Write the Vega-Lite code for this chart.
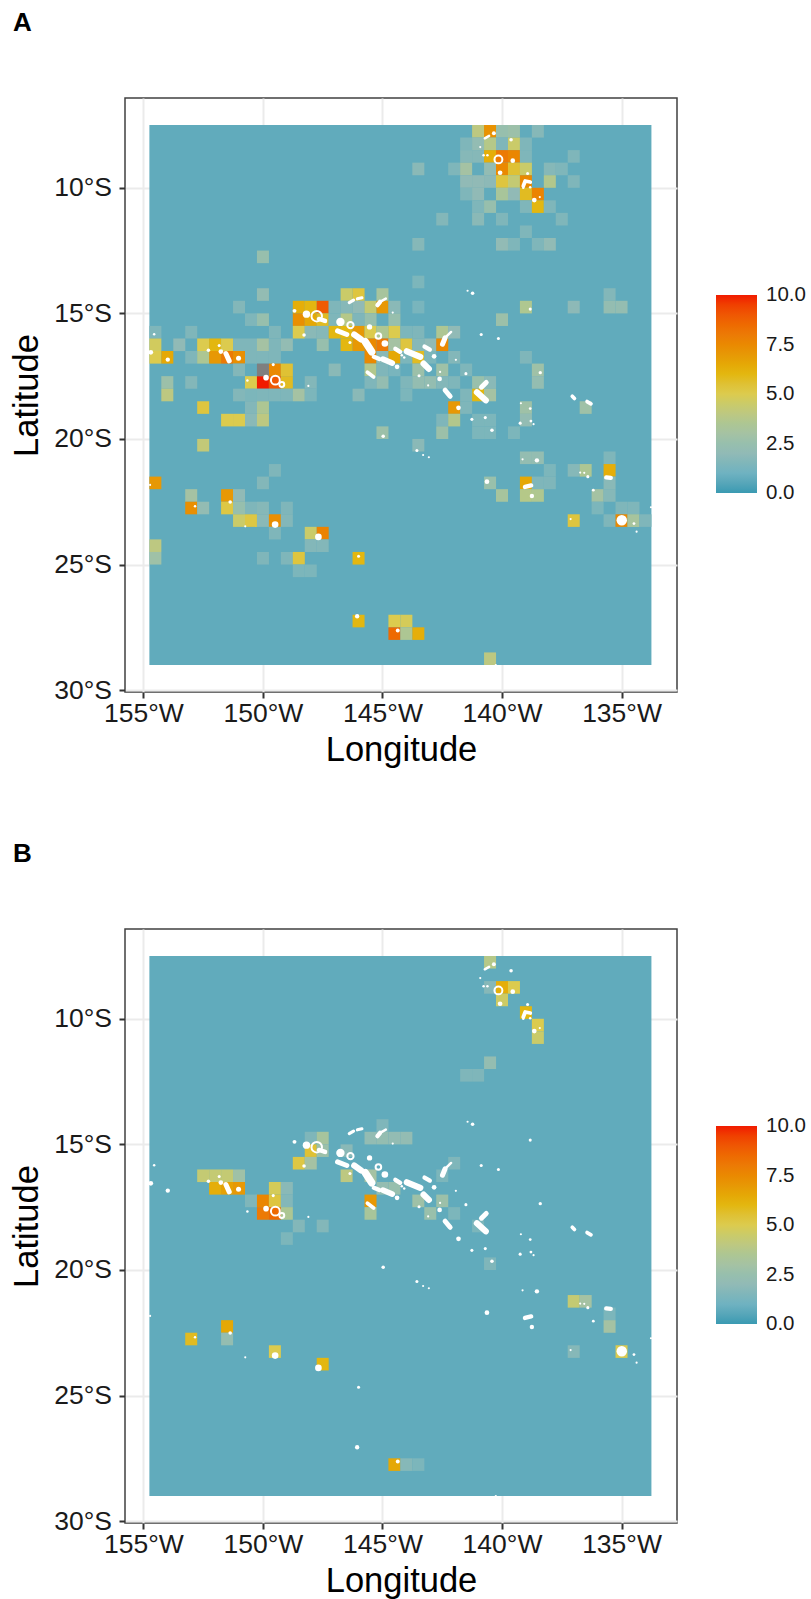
{"$schema":"https://vega.github.io/schema/vega-lite/v6.json","padding":{"left":9,"top":8,"right":0,"bottom":0},"background":"white","bounds":"flush","spacing":237,"resolve":{"scale":{"color":"independent"},"legend":{"color":"independent"}},
"config":{"font":"Liberation Sans","view":{"stroke":"#404040","strokeWidth":1.5},"axis":{"grid":true,"gridColor":"#ebebeb","gridWidth":2,"domain":false,"tickColor":"#333333","tickSize":6,"tickWidth":2,"labelFontSize":26.5,"labelColor":"#1a1a1a","titleFontSize":34.5,"titleFontWeight":"normal","titleColor":"#000000"},"axisX":{"titlePadding":7,"labelPadding":2},"axisY":{"titlePadding":9,"labelPadding":7.5},"title":{"fontSize":26,"fontWeight":"bold","anchor":"start","frame":"group","color":"#000000"}},
"datasets":{
"bg":[{"lon0":-154.75,"lon1":-133.75,"lat0":-29,"lat1":-7.5,"v":0.7}],
"na":[{"lon":-150,"lat":-17.25}],
"A":[
{"lon":-141,"lat":-7.75,"v":4},{"lon":-140.5,"lat":-7.75,"v":7.2},{"lon":-140,"lat":-7.75,"v":2.5},{"lon":-139.5,"lat":-7.75,"v":2.7},{"lon":-138.5,"lat":-7.75,"v":1.7},
{"lon":-141.5,"lat":-8.25,"v":1.5},{"lon":-141,"lat":-8.25,"v":2.2},{"lon":-140.5,"lat":-8.25,"v":3.8},{"lon":-140,"lat":-8.25,"v":1.5},{"lon":-139.5,"lat":-8.25,"v":4.5},{"lon":-139,"lat":-8.25,"v":1.5},
{"lon":-141.5,"lat":-8.75,"v":1.7},{"lon":-141,"lat":-8.75,"v":1.7},{"lon":-140.5,"lat":-8.75,"v":6.3},{"lon":-140,"lat":-8.75,"v":8},{"lon":-139.5,"lat":-8.75,"v":7.6},{"lon":-139,"lat":-8.75,"v":1.5},{"lon":-137,"lat":-8.75,"v":1.5},
{"lon":-143.5,"lat":-9.25,"v":1.8},{"lon":-142,"lat":-9.25,"v":1.5},{"lon":-141.5,"lat":-9.25,"v":3},{"lon":-140.5,"lat":-9.25,"v":2.2},{"lon":-140,"lat":-9.25,"v":7.5},{"lon":-139.5,"lat":-9.25,"v":5.5},{"lon":-139,"lat":-9.25,"v":4.5},{"lon":-138,"lat":-9.25,"v":1.7},{"lon":-137.5,"lat":-9.25,"v":1.5},
{"lon":-141.5,"lat":-9.75,"v":2},{"lon":-141,"lat":-9.75,"v":2},{"lon":-140.5,"lat":-9.75,"v":1.9},{"lon":-140,"lat":-9.75,"v":5.3},{"lon":-139.5,"lat":-9.75,"v":4.3},{"lon":-139,"lat":-9.75,"v":7.5},{"lon":-138,"lat":-9.75,"v":3.7},{"lon":-137,"lat":-9.75,"v":1.5},
{"lon":-141.5,"lat":-10.25,"v":1.5},{"lon":-141,"lat":-10.25,"v":2},{"lon":-140,"lat":-10.25,"v":3.3},{"lon":-139.5,"lat":-10.25,"v":2},{"lon":-139,"lat":-10.25,"v":5.8},{"lon":-138.5,"lat":-10.25,"v":7.7},
{"lon":-141,"lat":-10.75,"v":1.5},{"lon":-140.5,"lat":-10.75,"v":2.5},{"lon":-139,"lat":-10.75,"v":1.5},{"lon":-138.5,"lat":-10.75,"v":6},{"lon":-138,"lat":-10.75,"v":1.5},
{"lon":-142.5,"lat":-11.25,"v":1.6},{"lon":-141,"lat":-11.25,"v":1.8},{"lon":-140,"lat":-11.25,"v":1.5},{"lon":-137.5,"lat":-11.25,"v":1.5},
{"lon":-139,"lat":-11.75,"v":1.5},
{"lon":-143.5,"lat":-12.25,"v":1.7},{"lon":-140,"lat":-12.25,"v":2.1},{"lon":-139.5,"lat":-12.25,"v":1.5},{"lon":-138.5,"lat":-12.25,"v":1.5},{"lon":-138,"lat":-12.25,"v":2.1},
{"lon":-150,"lat":-12.75,"v":2.5},
{"lon":-143.5,"lat":-13.75,"v":1.4},
{"lon":-150,"lat":-14.25,"v":2.2},{"lon":-146.5,"lat":-14.25,"v":4.5},{"lon":-146,"lat":-14.25,"v":5.3},{"lon":-145,"lat":-14.25,"v":3.2},{"lon":-135.5,"lat":-14.25,"v":1.6},
{"lon":-151,"lat":-14.75,"v":1.6},{"lon":-148.5,"lat":-14.75,"v":6.3},{"lon":-148,"lat":-14.75,"v":6},{"lon":-147.5,"lat":-14.75,"v":8.9},{"lon":-147,"lat":-14.75,"v":1.5},{"lon":-146.5,"lat":-14.75,"v":1.7},{"lon":-146,"lat":-14.75,"v":2},{"lon":-145.5,"lat":-14.75,"v":4.3},{"lon":-145,"lat":-14.75,"v":7},{"lon":-144.5,"lat":-14.75,"v":1.8},{"lon":-143.5,"lat":-14.75,"v":1.3},{"lon":-139,"lat":-14.75,"v":3.6},{"lon":-137,"lat":-14.75,"v":1.9},{"lon":-135.5,"lat":-14.75,"v":2.3},{"lon":-135,"lat":-14.75,"v":2.3},
{"lon":-150.5,"lat":-15.25,"v":1.5},{"lon":-150,"lat":-15.25,"v":2.5},{"lon":-148.5,"lat":-15.25,"v":7.3},{"lon":-148,"lat":-15.25,"v":6.5},{"lon":-147.5,"lat":-15.25,"v":5.8},{"lon":-147,"lat":-15.25,"v":1.5},{"lon":-146.5,"lat":-15.25,"v":3.8},{"lon":-146,"lat":-15.25,"v":1.5},{"lon":-145.5,"lat":-15.25,"v":2.5},{"lon":-144.5,"lat":-15.25,"v":2.5},{"lon":-140,"lat":-15.25,"v":2.7},
{"lon":-154.5,"lat":-15.75,"v":1.5},{"lon":-153,"lat":-15.75,"v":1.5},{"lon":-149.5,"lat":-15.75,"v":1.5},{"lon":-148.5,"lat":-15.75,"v":5},{"lon":-148,"lat":-15.75,"v":1.8},{"lon":-147.5,"lat":-15.75,"v":1.7},{"lon":-147,"lat":-15.75,"v":6},{"lon":-146.5,"lat":-15.75,"v":6},{"lon":-146,"lat":-15.75,"v":7},{"lon":-145.5,"lat":-15.75,"v":5},{"lon":-145,"lat":-15.75,"v":3.5},{"lon":-144.5,"lat":-15.75,"v":5},{"lon":-144,"lat":-15.75,"v":1.4},{"lon":-143.5,"lat":-15.75,"v":1.5},{"lon":-142.5,"lat":-15.75,"v":3.5},{"lon":-142,"lat":-15.75,"v":2},
{"lon":-154.5,"lat":-16.25,"v":4.7},{"lon":-153.5,"lat":-16.25,"v":2},{"lon":-152.5,"lat":-16.25,"v":5},{"lon":-152,"lat":-16.25,"v":6},{"lon":-151.5,"lat":-16.25,"v":5},{"lon":-151,"lat":-16.25,"v":1.5},{"lon":-150.5,"lat":-16.25,"v":1.5},{"lon":-150,"lat":-16.25,"v":3},{"lon":-149.5,"lat":-16.25,"v":1.5},{"lon":-149,"lat":-16.25,"v":2.2},{"lon":-147.5,"lat":-16.25,"v":2.5},{"lon":-146.5,"lat":-16.25,"v":6},{"lon":-146,"lat":-16.25,"v":7},{"lon":-145.5,"lat":-16.25,"v":7.5},{"lon":-145,"lat":-16.25,"v":8},{"lon":-144.5,"lat":-16.25,"v":3},{"lon":-144,"lat":-16.25,"v":5.3},{"lon":-143.5,"lat":-16.25,"v":1.7},{"lon":-143,"lat":-16.25,"v":2},{"lon":-142.5,"lat":-16.25,"v":7.5},
{"lon":-154.5,"lat":-16.75,"v":5},{"lon":-154,"lat":-16.75,"v":6.5},{"lon":-153,"lat":-16.75,"v":1.5},{"lon":-152.5,"lat":-16.75,"v":3.5},{"lon":-152,"lat":-16.75,"v":7},{"lon":-151.5,"lat":-16.75,"v":8},{"lon":-151,"lat":-16.75,"v":7.3},{"lon":-150.5,"lat":-16.75,"v":1.5},{"lon":-150,"lat":-16.75,"v":1.5},{"lon":-149.5,"lat":-16.75,"v":1.5},{"lon":-145.5,"lat":-16.75,"v":7.5},{"lon":-145,"lat":-16.75,"v":1.8},{"lon":-144.5,"lat":-16.75,"v":6.5},{"lon":-144,"lat":-16.75,"v":1.4},{"lon":-143.5,"lat":-16.75,"v":5.8},{"lon":-143,"lat":-16.75,"v":1.4},{"lon":-142,"lat":-16.75,"v":1.6},{"lon":-139,"lat":-16.75,"v":1.5},
{"lon":-151,"lat":-17.25,"v":1.6},{"lon":-149.5,"lat":-17.25,"v":7.5},{"lon":-149,"lat":-17.25,"v":5.5},{"lon":-147,"lat":-17.25,"v":1.8},{"lon":-145.5,"lat":-17.25,"v":3.7},{"lon":-145,"lat":-17.25,"v":1.5},{"lon":-144.5,"lat":-17.25,"v":1.3},{"lon":-143.5,"lat":-17.25,"v":2.7},{"lon":-142.5,"lat":-17.25,"v":2.8},{"lon":-141.5,"lat":-17.25,"v":1.5},{"lon":-138.5,"lat":-17.25,"v":2.8},
{"lon":-154,"lat":-17.75,"v":2.7},{"lon":-153,"lat":-17.75,"v":1.6},{"lon":-150.5,"lat":-17.75,"v":5},{"lon":-150,"lat":-17.75,"v":10},{"lon":-149.5,"lat":-17.75,"v":9},{"lon":-149,"lat":-17.75,"v":5.8},{"lon":-148,"lat":-17.75,"v":1.6},{"lon":-145.5,"lat":-17.75,"v":1.5},{"lon":-145,"lat":-17.75,"v":2.3},{"lon":-144,"lat":-17.75,"v":1.5},{"lon":-143.5,"lat":-17.75,"v":2.3},{"lon":-143,"lat":-17.75,"v":2.3},{"lon":-142.5,"lat":-17.75,"v":1.6},{"lon":-142,"lat":-17.75,"v":1.5},{"lon":-141,"lat":-17.75,"v":2.6},{"lon":-140.5,"lat":-17.75,"v":1.8},{"lon":-138.5,"lat":-17.75,"v":2.3},
{"lon":-154,"lat":-18.25,"v":4},{"lon":-151,"lat":-18.25,"v":1.6},{"lon":-150.5,"lat":-18.25,"v":1.4},{"lon":-150,"lat":-18.25,"v":1.5},{"lon":-149.5,"lat":-18.25,"v":1.5},{"lon":-149,"lat":-18.25,"v":1.5},{"lon":-148.5,"lat":-18.25,"v":3},{"lon":-148,"lat":-18.25,"v":1.4},{"lon":-146,"lat":-18.25,"v":1.8},{"lon":-144,"lat":-18.25,"v":1.4},{"lon":-141.5,"lat":-18.25,"v":1.5},{"lon":-141,"lat":-18.25,"v":6},{"lon":-140.5,"lat":-18.25,"v":3},
{"lon":-152.5,"lat":-18.75,"v":5.3},{"lon":-150.5,"lat":-18.75,"v":1.6},{"lon":-150,"lat":-18.75,"v":3.5},{"lon":-142,"lat":-18.75,"v":7},{"lon":-141.5,"lat":-18.75,"v":1.5},{"lon":-139,"lat":-18.75,"v":2.8},{"lon":-136.5,"lat":-18.75,"v":2.8},
{"lon":-151.5,"lat":-19.25,"v":5},{"lon":-151,"lat":-19.25,"v":5},{"lon":-150.5,"lat":-19.25,"v":1.8},{"lon":-150,"lat":-19.25,"v":4},{"lon":-142.5,"lat":-19.25,"v":1.5},{"lon":-142,"lat":-19.25,"v":3.7},{"lon":-141,"lat":-19.25,"v":1.4},{"lon":-140.5,"lat":-19.25,"v":1.4},{"lon":-139,"lat":-19.25,"v":2.2},
{"lon":-145,"lat":-19.75,"v":2.7},{"lon":-142.5,"lat":-19.75,"v":2.7},{"lon":-141,"lat":-19.75,"v":1.4},{"lon":-140.5,"lat":-19.75,"v":1.4},{"lon":-139.5,"lat":-19.75,"v":1.4},
{"lon":-152.5,"lat":-20.25,"v":4.2},{"lon":-143.5,"lat":-20.25,"v":1.8},
{"lon":-139,"lat":-20.75,"v":2.3},{"lon":-138.5,"lat":-20.75,"v":2.3},{"lon":-135.5,"lat":-20.75,"v":1.5},
{"lon":-149.5,"lat":-21.25,"v":1.5},{"lon":-138,"lat":-21.25,"v":1.4},{"lon":-137,"lat":-21.25,"v":1.7},{"lon":-136.5,"lat":-21.25,"v":3.5},{"lon":-135.5,"lat":-21.25,"v":6.3},
{"lon":-154.5,"lat":-21.75,"v":7},{"lon":-150,"lat":-21.75,"v":1.6},{"lon":-140.5,"lat":-21.75,"v":2.6},{"lon":-139,"lat":-21.75,"v":6.5},{"lon":-138.5,"lat":-21.75,"v":1.5},{"lon":-138,"lat":-21.75,"v":1.5},{"lon":-135.5,"lat":-21.75,"v":1.8},
{"lon":-153,"lat":-22.25,"v":3},{"lon":-151.5,"lat":-22.25,"v":7},{"lon":-151,"lat":-22.25,"v":2},{"lon":-140,"lat":-22.25,"v":3.2},{"lon":-139,"lat":-22.25,"v":3.8},{"lon":-138.5,"lat":-22.25,"v":3.6},{"lon":-136,"lat":-22.25,"v":3},{"lon":-135.5,"lat":-22.25,"v":1.7},
{"lon":-153,"lat":-22.75,"v":7.3},{"lon":-152.5,"lat":-22.75,"v":2.2},{"lon":-151.5,"lat":-22.75,"v":5.2},{"lon":-151,"lat":-22.75,"v":2.5},{"lon":-150.5,"lat":-22.75,"v":1.5},{"lon":-150,"lat":-22.75,"v":1.7},{"lon":-149,"lat":-22.75,"v":1.5},{"lon":-136,"lat":-22.75,"v":1.4},{"lon":-135,"lat":-22.75,"v":1.5},{"lon":-134.5,"lat":-22.75,"v":1.5},
{"lon":-151,"lat":-23.25,"v":4.5},{"lon":-150.5,"lat":-23.25,"v":5.2},{"lon":-150,"lat":-23.25,"v":1.8},{"lon":-149.5,"lat":-23.25,"v":7.3},{"lon":-149,"lat":-23.25,"v":1.6},{"lon":-137,"lat":-23.25,"v":5.3},{"lon":-135.5,"lat":-23.25,"v":1.5},{"lon":-135,"lat":-23.25,"v":7.5},{"lon":-134.5,"lat":-23.25,"v":3.2},{"lon":-134,"lat":-23.25,"v":1.5},
{"lon":-149.5,"lat":-23.75,"v":1.5},{"lon":-148,"lat":-23.75,"v":4.5},{"lon":-147.5,"lat":-23.75,"v":7.7},
{"lon":-154.5,"lat":-24.25,"v":4},{"lon":-148,"lat":-24.25,"v":1.6},{"lon":-147.5,"lat":-24.25,"v":1.6},
{"lon":-154.5,"lat":-24.75,"v":2.8},{"lon":-150,"lat":-24.75,"v":1.5},{"lon":-149,"lat":-24.75,"v":1.5},{"lon":-148.5,"lat":-24.75,"v":5.3},{"lon":-146,"lat":-24.75,"v":6},
{"lon":-148.5,"lat":-25.25,"v":1.4},{"lon":-148,"lat":-25.25,"v":1.4},
{"lon":-146,"lat":-27.25,"v":6},{"lon":-144.5,"lat":-27.25,"v":5},{"lon":-144,"lat":-27.25,"v":4.8},
{"lon":-144.5,"lat":-27.75,"v":8.5},{"lon":-144,"lat":-27.75,"v":3.5},{"lon":-143.5,"lat":-27.75,"v":6.3},
{"lon":-140.5,"lat":-28.75,"v":4}],
"B":[
{"lon":-140.5,"lat":-7.75,"v":3.8},
{"lon":-140.5,"lat":-8.75,"v":1.7},{"lon":-140,"lat":-8.75,"v":6.3},{"lon":-139.5,"lat":-8.75,"v":5},
{"lon":-140,"lat":-9.25,"v":4.6},
{"lon":-139,"lat":-9.75,"v":6},
{"lon":-138.5,"lat":-10.25,"v":5},
{"lon":-138.5,"lat":-10.75,"v":4.5},
{"lon":-140.5,"lat":-11.75,"v":2.3},
{"lon":-141.5,"lat":-12.25,"v":1.5},{"lon":-141,"lat":-12.25,"v":1.5},
{"lon":-145,"lat":-14.25,"v":1.5},
{"lon":-148,"lat":-14.75,"v":1.5},{"lon":-147.5,"lat":-14.75,"v":3.2},{"lon":-145.5,"lat":-14.75,"v":2.2},{"lon":-145,"lat":-14.75,"v":2.3},{"lon":-144.5,"lat":-14.75,"v":2.2},{"lon":-144,"lat":-14.75,"v":2.2},
{"lon":-148,"lat":-15.25,"v":5.5},{"lon":-147.5,"lat":-15.25,"v":2.7},{"lon":-146.5,"lat":-15.25,"v":1.8},
{"lon":-148.5,"lat":-15.75,"v":5.2},{"lon":-148,"lat":-15.75,"v":3},{"lon":-142,"lat":-15.75,"v":1.5},
{"lon":-152.5,"lat":-16.25,"v":4.3},{"lon":-152,"lat":-16.25,"v":4.3},{"lon":-151.5,"lat":-16.25,"v":4.3},{"lon":-151,"lat":-16.25,"v":2.8},{"lon":-146.5,"lat":-16.25,"v":4},{"lon":-145.5,"lat":-16.25,"v":3},{"lon":-142.5,"lat":-16.25,"v":1.4},
{"lon":-152,"lat":-16.75,"v":6.3},{"lon":-151.5,"lat":-16.75,"v":6.7},{"lon":-151,"lat":-16.75,"v":7},{"lon":-149.5,"lat":-16.75,"v":4.8},{"lon":-149,"lat":-16.75,"v":1.8},{"lon":-145,"lat":-16.75,"v":2.3},{"lon":-144.5,"lat":-16.75,"v":2.5},
{"lon":-150.5,"lat":-17.25,"v":1.5},{"lon":-150,"lat":-17.25,"v":7.6},{"lon":-149.5,"lat":-17.25,"v":5.3},{"lon":-149,"lat":-17.25,"v":1.6},{"lon":-145.5,"lat":-17.25,"v":7},{"lon":-143.5,"lat":-17.25,"v":2.8},{"lon":-142.5,"lat":-17.25,"v":2.7},
{"lon":-150,"lat":-17.75,"v":8},{"lon":-149.5,"lat":-17.75,"v":8.5},{"lon":-149,"lat":-17.75,"v":3.5},{"lon":-145.5,"lat":-17.75,"v":3.3},{"lon":-143,"lat":-17.75,"v":2.6},{"lon":-142,"lat":-17.75,"v":1.4},
{"lon":-148.5,"lat":-18.25,"v":1.6},{"lon":-147.5,"lat":-18.25,"v":1.6},{"lon":-141,"lat":-18.25,"v":1.4},
{"lon":-149,"lat":-18.75,"v":1.4},
{"lon":-140.5,"lat":-19.75,"v":1.5},
{"lon":-137,"lat":-21.25,"v":4.3},{"lon":-136.5,"lat":-21.25,"v":3},
{"lon":-135.5,"lat":-21.75,"v":1.4},
{"lon":-151.5,"lat":-22.25,"v":6.5},{"lon":-135.5,"lat":-22.25,"v":3},
{"lon":-153,"lat":-22.75,"v":5.8},{"lon":-151.5,"lat":-22.75,"v":2.3},
{"lon":-149.5,"lat":-23.25,"v":5},{"lon":-137,"lat":-23.25,"v":1.7},{"lon":-135,"lat":-23.25,"v":5},
{"lon":-147.5,"lat":-23.75,"v":6},
{"lon":-144.5,"lat":-27.75,"v":6.5},{"lon":-144,"lat":-27.75,"v":1.7},{"lon":-143.5,"lat":-27.75,"v":1.4}],
"pts":[{"lon":-148.68,"lat":-14.9,"s":10},{"lon":-154.55,"lat":-15.83,"s":4},{"lon":-154.69,"lat":-16.55,"s":14},{"lon":-153.98,"lat":-16.84,"s":12},{"lon":-152.28,"lat":-16.47,"s":8},{"lon":-151.83,"lat":-16.28,"s":6},{"lon":-151.76,"lat":-16.52,"s":14},{"lon":-151.02,"lat":-16.79,"s":16},{"lon":-148.28,"lat":-15.86,"s":8},{"lon":-148.18,"lat":-15.03,"s":35},{"lon":-146.76,"lat":-15.34,"s":45},{"lon":-145.54,"lat":-15.54,"s":18},{"lon":-144.9,"lat":-16.2,"s":28},{"lon":-144.39,"lat":-17.13,"s":14},{"lon":-146.36,"lat":-16.16,"s":6},{"lon":-149.57,"lat":-17.04,"s":6},{"lon":-150.65,"lat":-17.67,"s":4},{"lon":-148.1,"lat":-17.89,"s":3},{"lon":-149.87,"lat":-17.56,"s":20},{"lon":-144.57,"lat":-14.97,"s":3},{"lon":-144.97,"lat":-19.89,"s":8},{"lon":-146,"lat":-24.67,"s":6},{"lon":-150.74,"lat":-23.48,"s":3},{"lon":-151.37,"lat":-22.51,"s":8},{"lon":-152.84,"lat":-22.68,"s":4},{"lon":-154.72,"lat":-21.83,"s":3},{"lon":-149.49,"lat":-23.41,"s":28},{"lon":-147.68,"lat":-23.9,"s":28},{"lon":-147.4,"lat":-15.3,"s":10},{"lon":-146.06,"lat":-27.06,"s":12},{"lon":-144.36,"lat":-27.63,"s":10},{"lon":-140.26,"lat":-29,"s":3},{"lon":-141.44,"lat":-14.1,"s":3},{"lon":-141.23,"lat":-14.2,"s":8},{"lon":-138.82,"lat":-14.83,"s":6},{"lon":-140.87,"lat":-15.84,"s":6},{"lon":-140.15,"lat":-16,"s":6},{"lon":-142.84,"lat":-16.71,"s":14},{"lon":-144.19,"lat":-16.67,"s":4},{"lon":-144.09,"lat":-16.76,"s":4},{"lon":-141.93,"lat":-16.85,"s":3},{"lon":-141.51,"lat":-17.4,"s":6},{"lon":-142.59,"lat":-17.33,"s":3},{"lon":-143.47,"lat":-17.48,"s":6},{"lon":-142.61,"lat":-17.61,"s":14},{"lon":-143.09,"lat":-17.87,"s":3},{"lon":-141.82,"lat":-18.76,"s":14},{"lon":-141.26,"lat":-19.22,"s":6},{"lon":-140.7,"lat":-19.15,"s":6},{"lon":-140.42,"lat":-19.65,"s":8},{"lon":-139.21,"lat":-18.58,"s":3},{"lon":-138.82,"lat":-18.79,"s":5},{"lon":-139.24,"lat":-19.37,"s":6},{"lon":-138.79,"lat":-19.29,"s":5},{"lon":-138.68,"lat":-19.41,"s":3},{"lon":-138.4,"lat":-17.36,"s":7},{"lon":-143.56,"lat":-20.46,"s":6},{"lon":-143.3,"lat":-20.64,"s":3},{"lon":-143.06,"lat":-20.73,"s":3},{"lon":-139.14,"lat":-20.81,"s":3},{"lon":-138.54,"lat":-20.85,"s":12},{"lon":-140.63,"lat":-21.7,"s":14},{"lon":-138.75,"lat":-22.27,"s":12},{"lon":-136.73,"lat":-21.34,"s":3},{"lon":-136.56,"lat":-21.35,"s":3},{"lon":-136.41,"lat":-21.5,"s":6},{"lon":-136.18,"lat":-22.04,"s":5},{"lon":-137.13,"lat":-23.19,"s":3},{"lon":-134.99,"lat":-23.24,"s":70},{"lon":-134.48,"lat":-23.37,"s":5},{"lon":-134.37,"lat":-23.69,"s":3},{"lon":-133.77,"lat":-22.72,"s":3},{"lon":-140.34,"lat":-7.83,"s":10},{"lon":-139.62,"lat":-8.09,"s":8},{"lon":-140.91,"lat":-8.38,"s":3},{"lon":-140.77,"lat":-8.7,"s":4},{"lon":-140.61,"lat":-8.7,"s":4},{"lon":-139.55,"lat":-8.92,"s":14},{"lon":-140.08,"lat":-9.4,"s":14},{"lon":-138.93,"lat":-9.43,"s":6},{"lon":-139.11,"lat":-10,"s":4},{"lon":-138.82,"lat":-9.98,"s":4},{"lon":-138.65,"lat":-10.49,"s":14},{"lon":-138.42,"lat":-10.37,"s":3}],
"rings":[{"lon":-140.15,"lat":-8.87,"s":40},{"lon":-149.48,"lat":-17.66,"s":50},{"lon":-149.21,"lat":-17.83,"s":15},{"lon":-147.75,"lat":-15.11,"s":70},{"lon":-146.34,"lat":-15.47,"s":25},{"lon":-145.17,"lat":-15.9,"s":20}],
"lines":[{"id":"a","w":4,"lon":-151.55,"lat":-16.6},{"id":"a","w":4,"lon":-151.41,"lat":-16.89},{"id":"b","w":4,"lon":-146.88,"lat":-15.7},{"id":"b","w":4,"lon":-146.49,"lat":-15.84},{"id":"c","w":2.5,"lon":-146.39,"lat":-14.57},{"id":"c","w":2.5,"lon":-146.21,"lat":-14.47},{"id":"d","w":2.5,"lon":-146.05,"lat":-14.42},{"id":"d","w":2.5,"lon":-145.86,"lat":-14.38},{"id":"e","w":3.5,"lon":-145.21,"lat":-14.67},{"id":"e","w":3.5,"lon":-145.1,"lat":-14.54},{"id":"e2","w":2,"lon":-145.1,"lat":-14.54},{"id":"e2","w":2,"lon":-144.86,"lat":-14.41},{"id":"f","w":5,"lon":-146.18,"lat":-15.84},{"id":"f","w":5,"lon":-145.89,"lat":-16.04},{"id":"g","w":6,"lon":-145.72,"lat":-16.13},{"id":"g","w":6,"lon":-145.45,"lat":-16.53},{"id":"h","w":3.5,"lon":-145.36,"lat":-16.73},{"id":"h","w":3.5,"lon":-145.13,"lat":-16.82},{"id":"i","w":4.5,"lon":-144.98,"lat":-16.82},{"id":"i","w":4.5,"lon":-144.59,"lat":-16.98},{"id":"j","w":3.5,"lon":-144.46,"lat":-16.41},{"id":"j","w":3.5,"lon":-144.26,"lat":-16.53},{"id":"k","w":3,"lon":-145.63,"lat":-17.34},{"id":"k","w":3,"lon":-145.37,"lat":-17.53},{"id":"l","w":4,"lon":-142.49,"lat":-16.23},{"id":"l","w":4,"lon":-142.38,"lat":-15.97},{"id":"m","w":2,"lon":-142.31,"lat":-15.91},{"id":"m","w":2,"lon":-142.13,"lat":-15.74},{"id":"n","w":3.5,"lon":-143.24,"lat":-16.32},{"id":"n","w":3.5,"lon":-143.02,"lat":-16.44},{"id":"o","w":5,"lon":-143.98,"lat":-16.51},{"id":"o","w":5,"lon":-143.42,"lat":-16.73},{"id":"p","w":5,"lon":-143.28,"lat":-17},{"id":"p","w":5,"lon":-143.06,"lat":-17.21},{"id":"q","w":4,"lon":-142.38,"lat":-18.06},{"id":"q","w":4,"lon":-142.17,"lat":-18.3},{"id":"r","w":4,"lon":-140.86,"lat":-17.94},{"id":"r","w":4,"lon":-140.66,"lat":-17.75},{"id":"s","w":5,"lon":-141.05,"lat":-18.14},{"id":"s","w":5,"lon":-140.68,"lat":-18.46},{"id":"t","w":3,"lon":-137.06,"lat":-18.3},{"id":"t","w":3,"lon":-136.97,"lat":-18.39},{"id":"u","w":3,"lon":-136.44,"lat":-18.51},{"id":"u","w":3,"lon":-136.28,"lat":-18.6},{"id":"v","w":3.5,"lon":-139.04,"lat":-21.91},{"id":"v","w":3.5,"lon":-138.78,"lat":-21.85},{"id":"w","w":3.5,"lon":-135.64,"lat":-21.53},{"id":"w","w":3.5,"lon":-135.45,"lat":-21.55},{"id":"x","w":2,"lon":-140.72,"lat":-8.03},{"id":"x","w":2,"lon":-140.54,"lat":-7.93},{"id":"y","w":3,"lon":-139.11,"lat":-9.93},{"id":"y","w":3,"lon":-139.03,"lat":-9.73},{"id":"y","w":3,"lon":-138.82,"lat":-9.77},{"id":"z","w":3.5,"lon":-147.66,"lat":-15.22},{"id":"z","w":3.5,"lon":-147.4,"lat":-15.3}]
},
"vconcat":[
{"width":552,"height":594,"title":{"text":"A","dx":-112,"offset":62.5},
"layer":[
{"data":{"name":"bg"},"mark":"rect","encoding":{"x":{"field":"lon0","type":"quantitative","scale":{"domain":[-155.77,-132.68],"nice":false,"zero":false},"axis":{"values":[-155,-150,-145,-140,-135],"labelExpr":"abs(datum.value)+'°W'","title":"Longitude"}},"x2":{"field":"lon1"},"y":{"field":"lat0","type":"quantitative","scale":{"domain":[-30.075,-6.425],"nice":false,"zero":false},"axis":{"values":[-10,-15,-20,-25,-30],"labelExpr":"abs(datum.value)+'°S'","title":"Latitude"}},"y2":{"field":"lat1"},"color":{"field":"v","type":"quantitative","scale":{"domain":[0,1,2,3,4,5,6,7,8,9,10],"range":["#3A9AB2","#6FB2C1","#91BAB6","#A5C2A3","#BDC881","#DCCB4E","#E3B710","#E79805","#EC7A05","#EF5703","#F11B00"]},"legend":{"title":null,"orient":"none","legendX":591,"legendY":197,"gradientLength":198,"gradientThickness":41,"values":[0,2.5,5,7.5,10],"format":".1f","labelFontSize":20.5,"labelColor":"#1a1a1a","labelOffset":9,"encode":{"labels":{"update":{"baseline":{"value":"middle"}}}}}}}},
{"data":{"name":"A"},"mark":{"type":"rect","width":12,"height":12.6},"encoding":{"x":{"field":"lon","type":"quantitative"},"y":{"field":"lat","type":"quantitative"},"color":{"field":"v","type":"quantitative"}}},
{"data":{"name":"na"},"mark":{"type":"rect","width":12,"height":12.6,"color":"#7f7f7f"},"encoding":{"x":{"field":"lon","type":"quantitative"},"y":{"field":"lat","type":"quantitative"}}},
{"data":{"name":"lines"},"mark":{"type":"line","color":"white","strokeCap":"round","strokeJoin":"round"},"encoding":{"x":{"field":"lon","type":"quantitative"},"y":{"field":"lat","type":"quantitative"},"detail":{"field":"id"},"order":{"value":0},"strokeWidth":{"field":"w","type":"quantitative","scale":{"domain":[0,6],"range":[0,7.5]},"legend":null}}},
{"data":{"name":"pts"},"mark":{"type":"circle","color":"white","opacity":1},"encoding":{"x":{"field":"lon","type":"quantitative"},"y":{"field":"lat","type":"quantitative"},"size":{"field":"s","type":"quantitative","scale":{"domain":[0,70],"range":[0,110]},"legend":null}}},
{"data":{"name":"rings"},"mark":{"type":"point","color":"white","filled":false,"strokeWidth":2,"opacity":1},"encoding":{"x":{"field":"lon","type":"quantitative"},"y":{"field":"lat","type":"quantitative"},"size":{"field":"s","type":"quantitative","scale":{"domain":[0,70],"range":[0,110]},"legend":null}}}
]},
{"width":552,"height":594,"title":{"text":"B","dx":-112,"offset":62.5},
"layer":[
{"data":{"name":"bg"},"mark":"rect","encoding":{"x":{"field":"lon0","type":"quantitative","scale":{"domain":[-155.77,-132.68],"nice":false,"zero":false},"axis":{"values":[-155,-150,-145,-140,-135],"labelExpr":"abs(datum.value)+'°W'","title":"Longitude"}},"x2":{"field":"lon1"},"y":{"field":"lat0","type":"quantitative","scale":{"domain":[-30.075,-6.425],"nice":false,"zero":false},"axis":{"values":[-10,-15,-20,-25,-30],"labelExpr":"abs(datum.value)+'°S'","title":"Latitude"}},"y2":{"field":"lat1"},"color":{"field":"v","type":"quantitative","scale":{"domain":[0,1,2,3,4,5,6,7,8,9,10],"range":["#3A9AB2","#6FB2C1","#91BAB6","#A5C2A3","#BDC881","#DCCB4E","#E3B710","#E79805","#EC7A05","#EF5703","#F11B00"]},"legend":{"title":null,"orient":"none","legendX":591,"legendY":197,"gradientLength":198,"gradientThickness":41,"values":[0,2.5,5,7.5,10],"format":".1f","labelFontSize":20.5,"labelColor":"#1a1a1a","labelOffset":9,"encode":{"labels":{"update":{"baseline":{"value":"middle"}}}}}}}},
{"data":{"name":"B"},"mark":{"type":"rect","width":12,"height":12.6},"encoding":{"x":{"field":"lon","type":"quantitative"},"y":{"field":"lat","type":"quantitative"},"color":{"field":"v","type":"quantitative"}}},
{"data":{"name":"lines"},"mark":{"type":"line","color":"white","strokeCap":"round","strokeJoin":"round"},"encoding":{"x":{"field":"lon","type":"quantitative"},"y":{"field":"lat","type":"quantitative"},"detail":{"field":"id"},"order":{"value":0},"strokeWidth":{"field":"w","type":"quantitative","scale":{"domain":[0,6],"range":[0,7.5]},"legend":null}}},
{"data":{"name":"pts"},"mark":{"type":"circle","color":"white","opacity":1},"encoding":{"x":{"field":"lon","type":"quantitative"},"y":{"field":"lat","type":"quantitative"},"size":{"field":"s","type":"quantitative","scale":{"domain":[0,70],"range":[0,110]},"legend":null}}},
{"data":{"name":"rings"},"mark":{"type":"point","color":"white","filled":false,"strokeWidth":2,"opacity":1},"encoding":{"x":{"field":"lon","type":"quantitative"},"y":{"field":"lat","type":"quantitative"},"size":{"field":"s","type":"quantitative","scale":{"domain":[0,70],"range":[0,110]},"legend":null}}}
]}
]}
